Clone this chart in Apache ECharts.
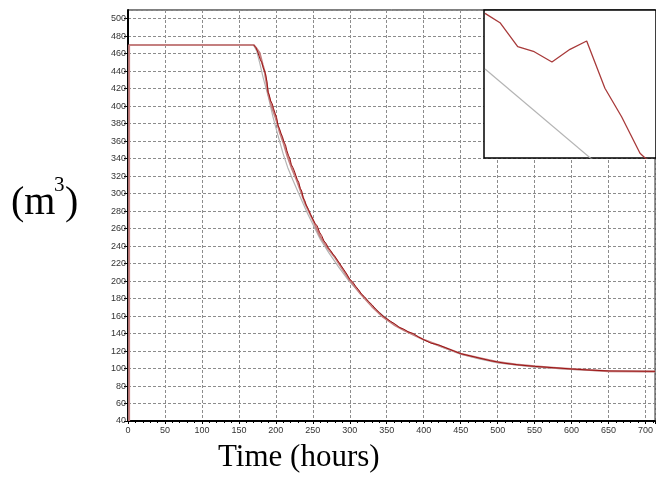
<!DOCTYPE html>
<html>
<head>
<meta charset="utf-8">
<script src="https://cdn.jsdelivr.net/npm/echarts@6/dist/echarts.min.js"></script>
<style>
  html, body { margin: 0; padding: 0; background: #fff; }
  #chart { width: 656px; height: 479px; }
</style>
</head>
<body>
<div id="chart"></div>
<script>
// main chart: time (hours) vs volume (m3)
var pinkT = [1.5, 1.5, 170, 173, 178, 182, 185, 190, 195, 200, 205, 210, 216, 222, 228, 234, 240, 250, 260, 270, 280, 290, 300, 315, 330, 345, 360, 375, 390, 400, 425, 450, 475, 500, 525, 550, 575, 600, 625, 650, 713];
var pinkV = [40, 470, 470, 467, 461, 448, 439, 413, 398, 386, 371, 359, 342, 328, 316, 302, 288, 270, 251, 238, 227, 214, 201, 185, 171, 159, 150, 143, 137, 133, 125, 117, 112, 107.5, 104.5, 102.5, 101, 99.5, 98.2, 97, 96.5];

var darkT = [170, 173, 175, 177, 179, 181, 183, 185, 186, 188, 189.5, 191, 193, 195, 197, 199, 201, 203, 205, 207, 209, 211, 213, 215, 217, 219, 221, 223, 225, 227, 229, 231, 233, 235, 237, 239, 241, 244, 247, 250, 253, 256, 259, 262, 265, 268, 271, 274, 277, 280, 284, 288, 292, 296, 300, 304, 308, 312, 316, 320, 325, 330, 335, 340, 345, 350, 355, 361, 367, 373, 379, 386, 393, 400, 410, 420, 435, 450, 470, 490, 510, 530, 550, 575, 600, 625, 650, 713];
var darkV = [470, 467, 463, 462, 453, 450, 444, 443, 437, 428, 416, 413, 406, 403, 397, 392, 387, 378, 374, 369, 365, 359, 356, 349, 344, 340, 333, 330, 326, 321, 316, 313, 306, 303, 295, 292, 287, 282, 276, 271, 266, 263, 256, 252, 246, 243, 238, 235, 231, 228, 223, 218, 213, 208, 202, 199, 194, 190, 185, 182, 177, 173, 168, 164, 160, 157, 154, 151, 147, 145, 142, 140, 136, 133, 129, 127, 122, 117, 113, 109, 106, 104, 102.5, 101, 99.5, 98.2, 97.3, 96.8];

var grayT = [1.5, 170, 174, 178, 182.7, 190, 196, 203, 209.7, 216, 223, 230, 236.7, 243, 250, 260, 272, 285, 299, 312, 326, 340, 353, 370, 385, 400, 421, 450, 475, 500, 550, 600, 650, 713];
var grayV = [470, 470, 463, 450, 433, 410, 388, 366, 346, 330, 315.5, 302, 289, 277, 265, 248, 232, 216, 200, 188, 175.5, 164, 155, 145.5, 139.5, 133, 125.5, 116.5, 111, 106.5, 101.5, 99, 97, 96.5];

// inset (zoomed detail)
var insetRedT = [180.06, 180.93, 181.96, 182.92, 183.95, 185.0, 185.97, 187.03, 188.0, 189.07, 189.6];
var insetRedV = [439.55, 438.28, 435.04, 434.36, 432.97, 434.69, 435.81, 429.42, 425.58, 420.64, 419.5];
var insetGrayT = [180.06, 186.74];
var insetGrayV = [432.03, 418.9];

function pairs(t, v) {
  return t.map(function (x, i) { return [x, v[i]]; });
}

var myChart = echarts.init(document.getElementById('chart'), null, { renderer: 'canvas' });

var labelFont = { color: '#333', fontSize: 9, fontFamily: 'Liberation Sans' };
var gridLine = { show: true, lineStyle: { color: '#8c8c8c', width: 1, type: [3, 2] } };

var option = {
  backgroundColor: '#fff',
  animation: false,
  grid: [
    { left: 128, top: 10, right: 0, bottom: 58, show: true, borderColor: '#000', borderWidth: 1 },
    { left: 484, top: 10, right: 0, height: 148, show: true, backgroundColor: '#fff', borderColor: '#000', borderWidth: 1.5, z: 10 }
  ],
  xAxis: [
    {
      type: 'value', gridIndex: 0, min: 0, max: 713, interval: 50,
      axisLine: { show: true, onZero: false, lineStyle: { color: '#000', width: 2 } },
      axisTick: { show: true, length: 3, lineStyle: { color: '#000' } },
      minorTick: { show: true, splitNumber: 5, length: 2, lineStyle: { color: '#000' } },
      axisLabel: Object.assign({ margin: 5, showMaxLabel: false }, labelFont),
      splitLine: gridLine
    },
    { type: 'value', gridIndex: 1, min: 180, max: 190, show: false, splitLine: { show: false } }
  ],
  yAxis: [
    {
      type: 'value', gridIndex: 0, min: 40, max: 510, interval: 20,
      axisLine: { show: true, onZero: false, lineStyle: { color: '#000', width: 2 } },
      axisTick: { show: true, length: 4, lineStyle: { color: '#000' } },
      axisLabel: Object.assign({ margin: 2, showMaxLabel: false }, labelFont),
      splitLine: gridLine
    },
    { type: 'value', gridIndex: 1, min: 420, max: 440, show: false, splitLine: { show: false } }
  ],
  series: [
    {
      type: 'line', xAxisIndex: 0, yAxisIndex: 0, data: pairs(grayT, grayV),
      showSymbol: false, lineStyle: { color: '#b4b4b4', width: 1.2 }, z: 2
    },
    {
      type: 'line', xAxisIndex: 0, yAxisIndex: 0, data: pairs(pinkT, pinkV),
      showSymbol: false, lineStyle: { color: '#c47f7f', width: 2 }, z: 3
    },
    {
      type: 'line', xAxisIndex: 0, yAxisIndex: 0, data: pairs(darkT, darkV),
      showSymbol: false, lineStyle: { color: '#9c1414', width: 1 }, z: 4
    },
    {
      type: 'line', xAxisIndex: 1, yAxisIndex: 1, data: pairs(insetGrayT, insetGrayV),
      showSymbol: false, clip: true, lineStyle: { color: '#b4b4b4', width: 1.2 }, z: 11
    },
    {
      type: 'line', xAxisIndex: 1, yAxisIndex: 1, data: pairs(insetRedT, insetRedV),
      showSymbol: false, clip: true, lineStyle: { color: '#a83a3a', width: 1.3 }, z: 12
    }
  ],
  graphic: [
    { type: 'text', left: 11, top: 183, style: { text: '(m', font: '40px "Liberation Serif"', fill: '#000' } },
    { type: 'text', left: 54, top: 175, style: { text: '3', font: '21px "Liberation Serif"', fill: '#000' } },
    { type: 'text', left: 65, top: 183, style: { text: ')', font: '40px "Liberation Serif"', fill: '#000' } },
    { type: 'text', left: 218, top: 442, style: { text: 'Time (hours)', font: '31px "Liberation Serif"', fill: '#000' } }
  ]
};
myChart.setOption(option);
</script>
</body>
</html>
